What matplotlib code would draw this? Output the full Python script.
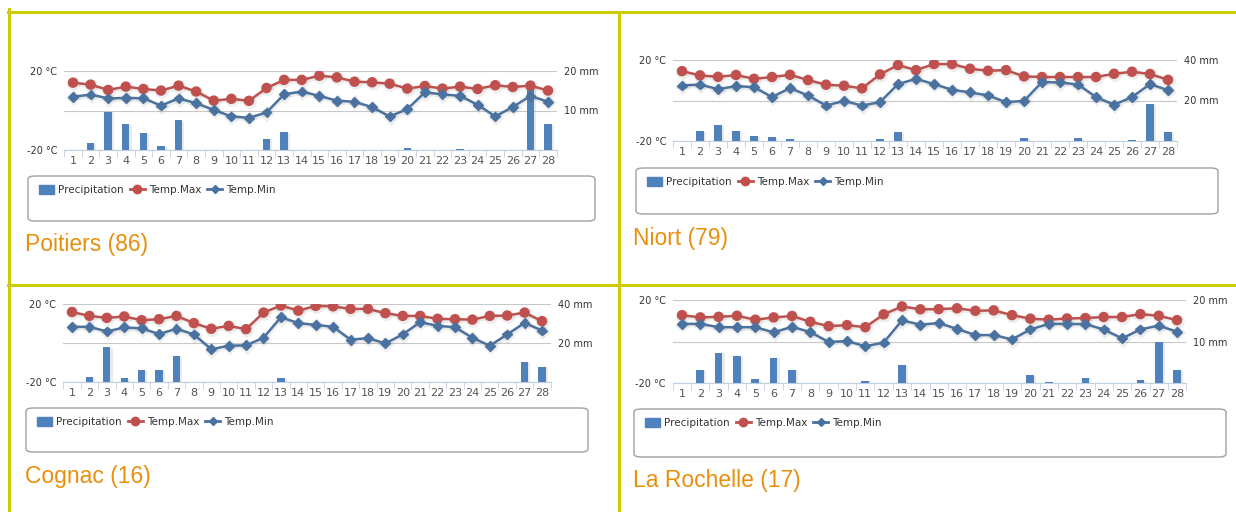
import numpy as np
import matplotlib
matplotlib.use("Agg")
import matplotlib.pyplot as plt
from matplotlib.lines import Line2D
from matplotlib.patches import FancyBboxPatch, Patch
import matplotlib.patheffects as pe

W, H = 1236, 512

days = list(range(1, 29))

# Poitiers
poitiers_prec = [0, 1.8, 9.7, 6.6, 4.3, 1.0, 7.5, 0, 0, 0, 0, 2.9, 4.5, 0, 0, 0, 0, 0, 0, 0.5, 0, 0, 0.3, 0, 0, 0.1, 16.4, 6.5]
poitiers_max = [14.1, 13.1, 10.4, 12.1, 10.9, 10.1, 12.6, 9.6, 5.0, 5.9, 4.9, 11.4, 15.5, 15.5, 17.6, 16.8, 14.6, 14.3, 13.6, 11.1, 12.4, 11.1, 12.1, 10.9, 12.8, 11.9, 12.6, 10.1]
poitiers_min = [6.9, 8.1, 6.1, 6.4, 6.2, 2.5, 6.1, 3.7, 0.3, -3.0, -3.7, -1.0, 8.2, 9.6, 7.4, 5.0, 4.4, 1.7, -3.0, 0.7, 9.2, 8.2, 7.4, 2.9, -3.0, 1.8, 7.4, 4.4]

# Niort
niort_prec = [0, 5.0, 7.7, 5.0, 2.5, 2.0, 0.8, 0, 0, 0, 0, 0.8, 4.5, 0, 0, 0, 0, 0, 0, 1.3, 0, 0, 1.3, 0, 0, 0.5, 18.2, 4.2]
niort_max = [14.5, 12.4, 11.7, 12.6, 10.7, 11.6, 12.7, 10.1, 7.8, 7.3, 6.0, 12.9, 17.5, 15.0, 18.0, 18.0, 15.7, 14.7, 15.0, 11.9, 11.6, 11.6, 11.6, 11.6, 13.2, 14.2, 13.1, 10.2]
niort_min = [7.4, 7.9, 5.6, 7.1, 6.6, 1.7, 6.1, 2.5, -2.5, -0.2, -2.5, -0.8, 8.1, 10.7, 8.1, 5.3, 4.0, 2.5, -0.8, -0.2, 9.1, 8.9, 7.9, 1.7, -2.1, 1.7, 8.1, 5.1]

# Cognac
cognac_prec = [0, 2.4, 18.0, 1.9, 5.9, 5.9, 13.2, 0, 0, 0, 0, 0, 1.9, 0, 0, 0, 0, 0, 0, 0, 0, 0, 0, 0, 0, 0, 10.5, 7.8]
cognac_max = [15.9, 13.9, 12.9, 13.6, 11.7, 12.2, 13.9, 10.2, 7.3, 8.8, 7.1, 15.6, 19.2, 16.6, 19.0, 18.8, 17.5, 17.5, 15.3, 13.9, 13.9, 12.4, 12.2, 12.0, 13.9, 14.1, 15.6, 11.2]
cognac_min = [8.3, 8.3, 5.9, 8.0, 7.5, 4.6, 7.3, 4.4, -3.2, -1.4, -1.2, 2.7, 13.2, 10.2, 9.3, 8.3, 1.7, 2.5, -0.2, 4.4, 10.7, 8.8, 8.1, 2.7, -1.4, 4.4, 10.3, 6.4]

# La Rochelle
rochelle_prec = [0, 3.2, 7.3, 6.5, 0.9, 6.1, 3.2, 0, 0, 0, 0.6, 0, 4.4, 0, 0, 0, 0, 0, 0, 1.9, 0.2, 0, 1.3, 0, 0, 0.7, 10.0, 3.1]
rochelle_max = [12.7, 11.6, 11.9, 12.4, 10.5, 11.6, 12.3, 9.5, 7.4, 7.9, 6.9, 13.1, 16.9, 15.5, 15.6, 16.0, 14.8, 15.0, 12.7, 11.0, 10.5, 11.1, 11.3, 11.8, 11.8, 13.2, 12.4, 10.3]
rochelle_min = [8.5, 8.5, 6.9, 6.9, 6.9, 4.4, 7.1, 4.5, -0.2, 0.2, -2.3, -0.5, 10.2, 8.1, 8.9, 6.1, 3.1, 3.1, 1.0, 5.8, 8.5, 8.5, 8.4, 5.8, 1.5, 5.8, 7.7, 4.7]

BAR_C = "#4F81BD"
MAX_C = "#C0504D"
MIN_C = "#4A72A0"
GRID_C = "#C8C8C8"
LABEL_C = "#555555"
YELLOW = "#CCCC00"
ORANGE = "#E8900C"


def fx(x):
    return x / W


def fy(y):
    return 1 - y / H


def panel(fig, name, prec, tmax, tmin, mm_top, plot_px, box_px, title_px):
    x0, x1, yt, yb = plot_px
    ax2 = fig.add_axes([fx(x0), fy(yb), (x1 - x0) / W, (yb - yt) / H])
    ax = ax2.twinx()
    # temperature axis on the left, precip on the right
    ax.yaxis.tick_left()
    ax2.yaxis.tick_right()
    ax.set_zorder(ax2.get_zorder() + 1)
    ax.patch.set_visible(False)

    ax2.bar(days, prec, width=0.42, color=BAR_C, zorder=3,
            path_effects=[pe.SimplePatchShadow(offset=(1.5, -0.5), shadow_rgbFace="#999999", alpha=0.2), pe.Normal()])
    ax2.set_ylim(0, mm_top)
    ax2.set_yticks([mm_top / 2, mm_top])
    ax2.set_yticklabels(["%d mm" % (mm_top / 2), "%d mm" % mm_top])
    for v in [0, mm_top / 2, mm_top]:
        ax2.axhline(v, color=GRID_C, lw=0.8, zorder=1)

    shadow = [pe.SimpleLineShadow(offset=(0.7, -1.0), shadow_color="#777777", alpha=0.12, linewidth=3.2), pe.Normal()]
    ax.plot(days, tmax, color=MAX_C, lw=1.8, marker="o", ms=6.5, mec=MAX_C, path_effects=shadow)
    ax.plot(days, tmin, color=MIN_C, lw=1.8, marker="D", ms=5, mec=MIN_C, path_effects=shadow)
    ax.set_ylim(-20, 20)
    ax.set_yticks([-20, 20])
    ax.set_yticklabels(["-20 °C", "20 °C"])

    for a in (ax, ax2):
        a.set_xlim(0.5, 28.5)
        for s in a.spines.values():
            s.set_visible(False)
        a.tick_params(axis="y", length=0, labelsize=7, labelcolor="#333333", pad=5)
    ax2.spines["bottom"].set_visible(True)
    ax2.spines["bottom"].set_color("#C0D0E0")
    ax2.set_xticks(days)
    ax2.set_xticklabels([str(d) for d in days])
    ax2.set_xticks(np.arange(0.5, 29, 1), minor=True)
    ax2.tick_params(axis="x", which="major", length=0, labelsize=8, labelcolor=LABEL_C, pad=4)
    ax2.tick_params(axis="x", which="minor", length=5, color="#C0D0E0")

    # legend box
    bx0, bx1, by0, by1 = box_px
    fig.patches.append(FancyBboxPatch((fx(bx0), fy(by1)), (bx1 - bx0) / W, (by1 - by0) / H,
                                      boxstyle="round,pad=0,rounding_size=0.006", transform=fig.transFigure,
                                      facecolor="white", edgecolor="#A0A0A0", lw=1))
    handles = [Patch(color=BAR_C),
               Line2D([], [], color=MAX_C, lw=2, marker="o", ms=6),
               Line2D([], [], color=MIN_C, lw=2, marker="D", ms=4.5)]
    fig.legend(handles, ["Precipitation", "Temp.Max", "Temp.Min"], loc="upper left",
               bbox_to_anchor=(fx(bx0 + 3), fy(by0 + 1)), ncol=3, frameon=False,
               fontsize=7.5, handlelength=1.4, handletextpad=0.4, columnspacing=0.6,
               borderpad=0.3, labelcolor="#333333", handleheight=0.9)

    tx, ty = title_px
    fig.text(fx(tx), fy(ty), name, color=ORANGE, fontsize=16.5, family="Liberation Sans",
             ha="left", va="center")


fig = plt.figure(figsize=(W / 100, H / 100), dpi=100)

panel(fig, "Poitiers (86)", poitiers_prec, poitiers_max, poitiers_min, 20,
      (64.2, 556.8, 71, 150), (28, 595, 176, 221), (25, 244))
panel(fig, "Niort (79)", niort_prec, niort_max, niort_min, 40,
      (673, 1177, 60, 141), (636, 1218, 168, 214), (633, 238))
panel(fig, "Cognac (16)", cognac_prec, cognac_max, cognac_min, 40,
      (63.3, 550.7, 304, 382), (26, 588, 408, 452), (25, 477))
panel(fig, "La Rochelle (17)", rochelle_prec, rochelle_max, rochelle_min, 20,
      (672.8, 1186.2, 300, 383), (634, 1226, 409, 457), (633, 481))

# yellow frame
lw = 3 * 72 / 100
for xs, ys in [((8, 1236), (12, 12)), ((8, 1236), (284.5, 284.5)),
               ((9, 9), (9, 512)), ((619, 619), (12, 512))]:
    fig.add_artist(Line2D([fx(xs[0]), fx(xs[1])], [fy(ys[0]), fy(ys[1])],
                          transform=fig.transFigure, color=YELLOW, lw=lw))

fig.savefig("out.png", dpi=100, facecolor="white")
